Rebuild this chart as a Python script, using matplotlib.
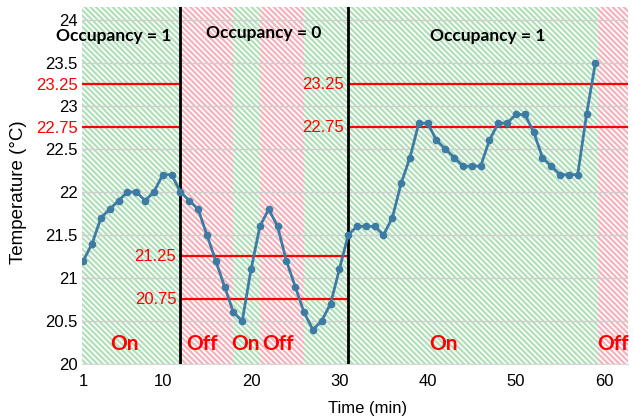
import matplotlib
matplotlib.use("Agg")
import matplotlib.pyplot as plt

plt.rcParams["font.family"] = "Liberation Sans"
plt.rcParams["font.size"] = 12
plt.rcParams["hatch.linewidth"] = 1.6

# temperature reading each minute
minutes = list(range(1, 60))
temps = [21.2, 21.4, 21.7, 21.8, 21.9, 22.0, 22.0, 21.9, 22.0, 22.2,
         22.2, 22.0, 21.9, 21.8, 21.5, 21.2, 20.9, 20.6, 20.5, 21.1,
         21.6, 21.8, 21.6, 21.2, 20.9, 20.6, 20.4, 20.5, 20.7, 21.1,
         21.5, 21.6, 21.6, 21.6, 21.5, 21.7, 22.1, 22.4, 22.8, 22.8,
         22.6, 22.5, 22.4, 22.3, 22.3, 22.3, 22.6, 22.8, 22.8, 22.9,
         22.9, 22.7, 22.4, 22.3, 22.2, 22.2, 22.2, 22.9, 23.5]

# HVAC on/off periods
hvac_state = ["On", "Off", "On", "Off", "On", "Off"]
state_start = [0.82, 12, 17.9, 21, 26, 59.3]
state_end = [12, 17.9, 21, 26, 59.3, 62.7]

# occupancy periods and their comfort limits
occ_label = ["Occupancy = 1", "Occupancy = 0", "Occupancy = 1"]
occ_start = [0.82, 12, 31]
occ_end = [12, 31, 62.7]
occ_upper = [23.25, 21.25, 23.25]
occ_lower = [22.75, 20.75, 22.75]

yticks = [20, 20.5, 21, 21.5, 22, 22.5, 23, 23.5, 24]
xticks = [1, 10, 20, 30, 40, 50, 60]

fig = plt.figure(figsize=(6.34, 4.16), dpi=100)
ax = fig.add_axes([0.1289, 0.125, 0.8617, 0.8583])

band_col = {"On": "#b0dfb9", "Off": "#f4b3bc"}
for st, a, b in zip(hvac_state, state_start, state_end):
    ax.axvspan(a, b, facecolor="white", edgecolor=band_col[st], hatch="\\\\\\\\\\\\",
               linewidth=0, zorder=0)

# band labels
state_txt_x = [5.7, 12.7, 17.8, 21.3, 41.8, 59.2]
state_txt_ha = ["center", "left", "left", "left", "center", "left"]
for st, tx, ha in zip(hvac_state, state_txt_x, state_txt_ha):
    ax.text(tx, 20.23, st, color="#ff0000", fontsize=15, fontweight="bold",
            family="Lato", ha=ha, va="center", zorder=5)

# comfort limits
for a, b, hi, lo in zip(occ_start, occ_end, occ_upper, occ_lower):
    ax.hlines([hi, lo], a, b, color="#ff0000", linewidth=1.6, zorder=3)
for a, hi, lo in zip(occ_start[1:], occ_upper[1:], occ_lower[1:]):
    for v in (lo, hi):
        ax.annotate(f"{v:.2f}", xy=(a, v), xytext=(-3, 0), textcoords="offset points",
                    ha="right", va="center", color="#ff0000", fontsize=12, zorder=5)

for a in occ_start[1:]:
    ax.axvline(a, color="black", linewidth=2, zorder=4)

occ_txt = [(4.4, 23.81), (21.4, 23.85), (46.8, 23.81)]
for lab, (tx, ty) in zip(occ_label, occ_txt):
    ax.text(tx, ty, lab, fontsize=12.5, fontweight="bold", family="Lato",
            ha="center", va="center", zorder=5)

ax.plot(minutes, temps, color="#3d7ba4", linewidth=2, marker="o",
        markersize=4.5, zorder=6)

ax.set_xlim(0.82, 62.7)
ax.set_ylim(20, 24.15)
ax.set_xticks(xticks)
ax.set_yticks(yticks)
ax.set_yticklabels([f"{v:g}" for v in yticks])
ax.set_yticks([22.75, 23.25], minor=True)
ax.set_yticklabels(["22.75", "23.25"], minor=True)
ax.tick_params(which="both", length=0)
ax.tick_params(axis="y", which="both", pad=3)
ax.tick_params(axis="y", which="minor", labelcolor="#ff0000")
ax.tick_params(axis="x", pad=7)
ax.grid(axis="y", which="major", color="#cfcfcf", linewidth=1, zorder=1)
ax.set_axisbelow(True)

for s in ["top", "right", "left"]:
    ax.spines[s].set_visible(False)
ax.spines["bottom"].set_color("#d9d9d9")

ax.set_xlabel("Time (min)", fontsize=12)
ax.xaxis.set_label_coords(0.524, -0.105)
ax.set_ylabel("Temperature (°C)", fontsize=13.5)
ax.yaxis.set_label_coords(-0.1, 0.48)

fig.savefig("out.png", dpi=100)
